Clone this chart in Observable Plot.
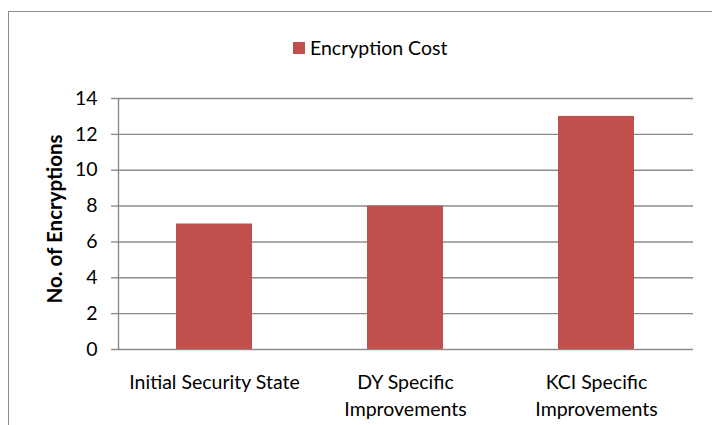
<!DOCTYPE html>
<html>
<head>
<meta charset="utf-8">
<script src="https://cdn.jsdelivr.net/npm/d3@7"></script>
<script src="https://cdn.jsdelivr.net/npm/@observablehq/plot@0.6"></script>
<style>
  html, body { margin: 0; padding: 0; background: #fff; }
  #wrap { position: relative; width: 712px; height: 425px; overflow: hidden; font-family: Lato, "Open Sans", sans-serif; }
  #border { position: absolute; left: 8px; top: 11px; width: 900px; height: 600px; border: 1.5px solid #8c8c8c; box-sizing: border-box; pointer-events: none; }
  #legend { position: relative; height: 70px; }
  #legend .item { position: absolute; left: 293px; top: 36px; display: flex; align-items: center; font-size: 19.5px; color: #000; }
  #legend .sw { width: 12px; height: 12px; margin-right: 5px; }
  svg { display: block; }
</style>
</head>
<body>
<div id="wrap">
  <div id="border"></div>
  <div id="legend"></div>
  <div id="chart"></div>
</div>
<script>
const categories = ["Initial Security State", "DY Specific\nImprovements", "KCI Specific\nImprovements"];
const values = [7, 8, 13];
const yTicks = [0, 2, 4, 6, 8, 10, 12, 14];
const seriesName = "Encryption Cost";
const yLabel = "No. of Encryptions";
const barColor = "#C0504D";
const gridColor = "#8c8c8c";

const data = categories.map((c, i) => ({category: c, value: values[i]}));

// legend
const legend = document.getElementById("legend");
const item = document.createElement("div");
item.className = "item";
const sw = document.createElement("span");
sw.className = "sw";
sw.style.background = barColor;
const lab = document.createElement("span");
lab.textContent = seriesName;
item.appendChild(sw);
item.appendChild(lab);
legend.appendChild(item);

const chart = Plot.plot({
  width: 712,
  height: 355,
  marginTop: 28,
  marginBottom: 76,
  marginLeft: 118,
  marginRight: 19,
  style: {fontFamily: "Lato, 'Open Sans', sans-serif", background: "transparent", color: "#000"},
  x: {domain: categories, paddingInner: 0.6, paddingOuter: 0.3, align: 0.5, label: null},
  y: {domain: [0, 14], label: null},
  marks: [
    Plot.gridY(yTicks, {stroke: gridColor, strokeOpacity: 1, strokeWidth: 1.4}),
    Plot.barY(data, {x: "category", y: "value", fill: barColor}),
    Plot.frame({anchor: "left", stroke: gridColor, strokeWidth: 1.4}),
    Plot.axisY(yTicks, {tickSize: 7, tickPadding: 14, fontSize: 19.5, stroke: gridColor, strokeWidth: 1.4, label: null, tickFormat: d => String(d)}),
    Plot.axisX({tickSize: 0, tickPadding: 21, fontSize: 19.5, lineHeight: 1.35, label: null}),
    Plot.text([yLabel], {frameAnchor: "left", textAnchor: "middle", rotate: -90, dx: -63, dy: -5, fontSize: 20.5, fontWeight: "bold", fill: "#000"})
  ]
});
document.getElementById("chart").appendChild(chart);
</script>
</body>
</html>
